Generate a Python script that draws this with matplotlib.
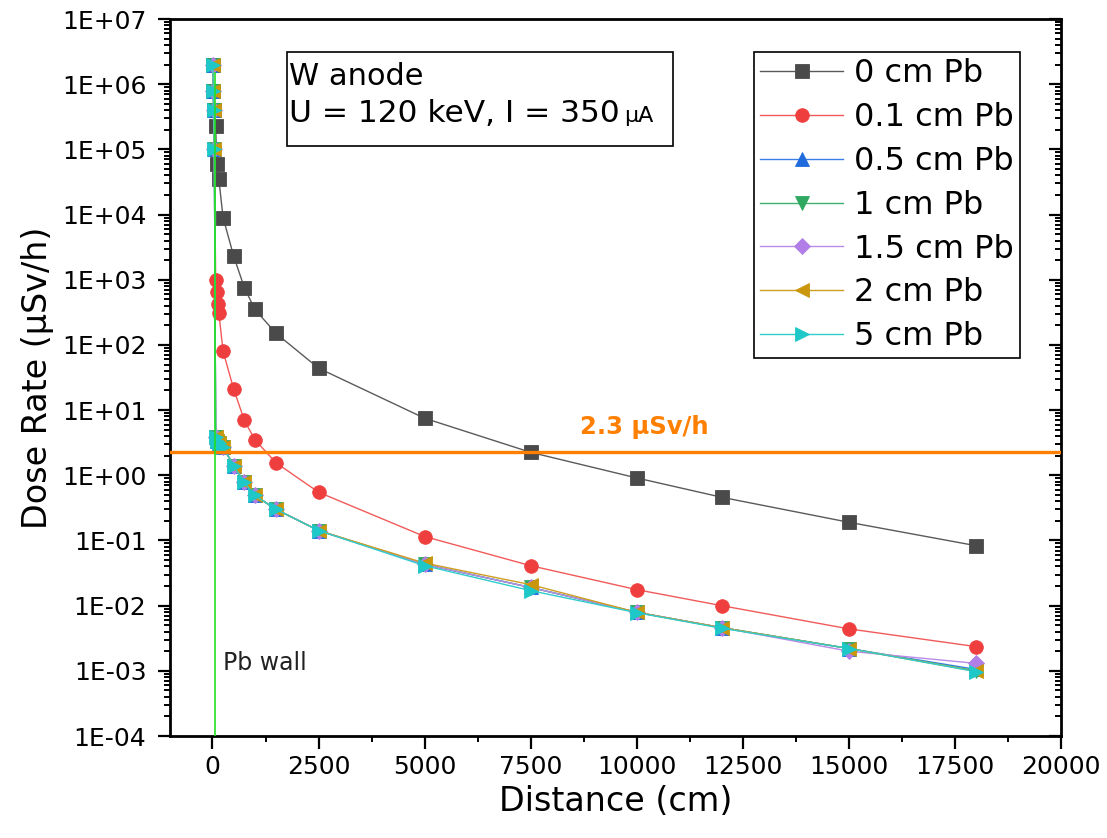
import matplotlib
matplotlib.use("Agg")
import matplotlib.pyplot as plt
from matplotlib.ticker import LogLocator, FuncFormatter, MultipleLocator, NullFormatter
from matplotlib.patches import Rectangle
import numpy as np

# data ---------------------------------------------------------------------
x_0cm = [10, 20, 30, 75, 100, 150, 250, 500, 750, 1000, 1500, 2500,
         5000, 7500, 10000, 12000, 15000, 18000]
y_0cm = [2.0e6, 8.0e5, 4.0e5, 2.3e5, 6.0e4, 3.5e4, 9.0e3, 2.3e3, 7.6e2,
         3.5e2, 1.5e2, 44, 7.5, 2.25, 0.91, 0.46, 0.19, 0.083]

x_01cm = [10, 20, 30, 45, 75, 100, 125, 150, 250, 500, 750, 1000, 1500,
          2500, 5000, 7500, 10000, 12000, 15000, 18000]
y_01cm = [2.0e6, 8.0e5, 4.0e5, 1.0e5, 1000, 650, 420, 310, 80, 21, 7.0,
          3.5, 1.55, 0.55, 0.115, 0.041, 0.0176, 0.0100, 0.0044, 0.00235]

x_sh = [10, 20, 30, 45, 75, 100, 150, 250, 500, 750, 1000, 1500, 2500,
        5000, 7500, 10000, 12000, 15000, 18000]
y_05cm = [2.0e6, 8.0e5, 4.0e5, 1.0e5, 3.8, 3.4, 3.1, 2.7, 1.4, 0.78, 0.49,
          0.30, 0.142, 0.043, 0.019, 0.0079, 0.0046, 0.0022, 0.00105]
y_1cm = [2.0e6, 8.0e5, 4.0e5, 1.0e5, 3.8, 3.4, 3.1, 2.7, 1.4, 0.78, 0.49,
         0.30, 0.142, 0.043, 0.019, 0.0079, 0.0046, 0.0022, 0.00100]
y_15cm = [2.0e6, 8.0e5, 4.0e5, 1.0e5, 3.8, 3.4, 3.1, 2.7, 1.4, 0.78, 0.49,
          0.30, 0.142, 0.043, 0.019, 0.0079, 0.0046, 0.0020, 0.00130]
y_2cm = [2.0e6, 8.0e5, 4.0e5, 1.0e5, 3.8, 3.4, 3.1, 2.7, 1.4, 0.78, 0.49,
         0.30, 0.142, 0.045, 0.021, 0.0079, 0.0046, 0.0022, 0.00098]
y_5cm = [2.0e6, 8.0e5, 4.0e5, 1.0e5, 3.8, 3.4, 3.1, 2.7, 1.4, 0.78, 0.49,
         0.30, 0.142, 0.041, 0.017, 0.0078, 0.0045, 0.0022, 0.00097]

limit = 2.3
wall_x = 55

# styling ------------------------------------------------------------------
series = [
    (x_0cm, y_0cm, "0 cm Pb", "s", "#4a4a4a", "#5a5a5a"),
    (x_01cm, y_01cm, "0.1 cm Pb", "o", "#ef3e3e", "#f25a5a"),
    (x_sh, y_05cm, "0.5 cm Pb", "^", "#1f6bde", "#3a7fe6"),
    (x_sh, y_1cm, "1 cm Pb", "v", "#2fa862", "#3fb06e"),
    (x_sh, y_15cm, "1.5 cm Pb", "D", "#b07ee6", "#b98ae8"),
    (x_sh, y_2cm, "2 cm Pb", "<", "#c9960c", "#cf9e20"),
    (x_sh, y_5cm, "5 cm Pb", ">", "#1ec8c8", "#30cccc"),
]

plt.rcParams["font.family"] = "DejaVu Sans"
fig = plt.figure(figsize=(11.07, 8.38), dpi=100)
ax = fig.add_axes([0.1536, 0.1217, 0.805, 0.8556])

for xs, ys, lab, mk, mc, lc in series:
    ms = 8.2 if mk == "D" else 9.8
    ax.plot(xs, ys, color=lc, lw=1.0, marker=mk, ms=ms, mfc=mc, mec=mc,
            mew=0.6, label=lab)

ax.axhline(limit, color="#ff7f00", lw=2.4, zorder=6)
ax.plot([wall_x, wall_x], [1e-4, 1.5e6], color="#22e022", lw=1.2, zorder=7)

ax.set_yscale("log")
ax.set_xlim(-1000, 20000)
ax.set_ylim(1e-4, 1e7)

ax.xaxis.set_major_locator(MultipleLocator(2500))
ax.xaxis.set_minor_locator(MultipleLocator(1250))
ax.yaxis.set_major_locator(LogLocator(base=10, numticks=20))
ax.yaxis.set_minor_locator(LogLocator(base=10, subs=np.arange(2, 10), numticks=20))
ax.yaxis.set_minor_formatter(NullFormatter())
ax.yaxis.set_major_formatter(FuncFormatter(lambda v, p: f"1E{int(round(np.log10(v))):+03d}"))

for s in ax.spines.values():
    s.set_linewidth(2.0)
ax.tick_params(which="major", direction="out", length=9, width=1.6,
               labelsize=18)
ax.tick_params(which="minor", direction="out", length=4.5, width=1.4)
ax.tick_params(axis="x", which="major", pad=5)
ax.tick_params(axis="y", which="major", pad=8)

ax.set_xlabel("Distance (cm)", fontsize=24, labelpad=4)
ax.set_ylabel("Dose Rate (\u00b5Sv/h)", fontsize=24, labelpad=6)

# right side ticks point inward
ax2 = ax.twinx()
ax2.set_yscale("log")
ax2.set_ylim(ax.get_ylim())
ax2.yaxis.set_major_locator(LogLocator(base=10, numticks=20))
ax2.yaxis.set_minor_locator(LogLocator(base=10, subs=np.arange(2, 10), numticks=20))
ax2.yaxis.set_major_formatter(NullFormatter())
ax2.yaxis.set_minor_formatter(NullFormatter())
ax2.tick_params(which="major", direction="in", length=9, width=1.6)
ax2.tick_params(which="minor", direction="in", length=4.5, width=1.4)
for s in ax2.spines.values():
    s.set_visible(False)

# labels
ax.text(8650, 4.36, "2.3 \u00b5Sv/h", color="#ff7f00", fontsize=17.5,
        fontweight="bold", ha="left", va="baseline")
ax.text(250, 1.3e-3, "Pb wall", fontsize=17, ha="left", va="center",
        color="#222222")

# info box
ax.add_patch(Rectangle((0.131, 0.823), 0.4335, 0.131, transform=ax.transAxes,
                       fill=False, ec="black", lw=1.2, zorder=8))
ax.text(0.133, 0.908, "W anode", transform=ax.transAxes, fontsize=22,
        ha="left", va="baseline", zorder=9)
ax.text(0.133, 0.856, "U = 120 keV, I = 350", transform=ax.transAxes,
        fontsize=22.5, ha="left", va="baseline", zorder=9)
ax.text(0.51, 0.856, "\u00b5A", transform=ax.transAxes, fontsize=16,
        ha="left", va="baseline", zorder=9)

leg = ax.legend(loc="upper right", bbox_to_anchor=(0.954, 0.954), fontsize=23,
                frameon=True, fancybox=False, edgecolor="black",
                framealpha=1, borderpad=0.2, handlelength=2.6,
                handletextpad=0.34, labelspacing=0.4, borderaxespad=0)
leg.get_frame().set_linewidth(1.2)
leg.set_zorder(10)

fig.savefig("out.png", dpi=100, facecolor="white")
